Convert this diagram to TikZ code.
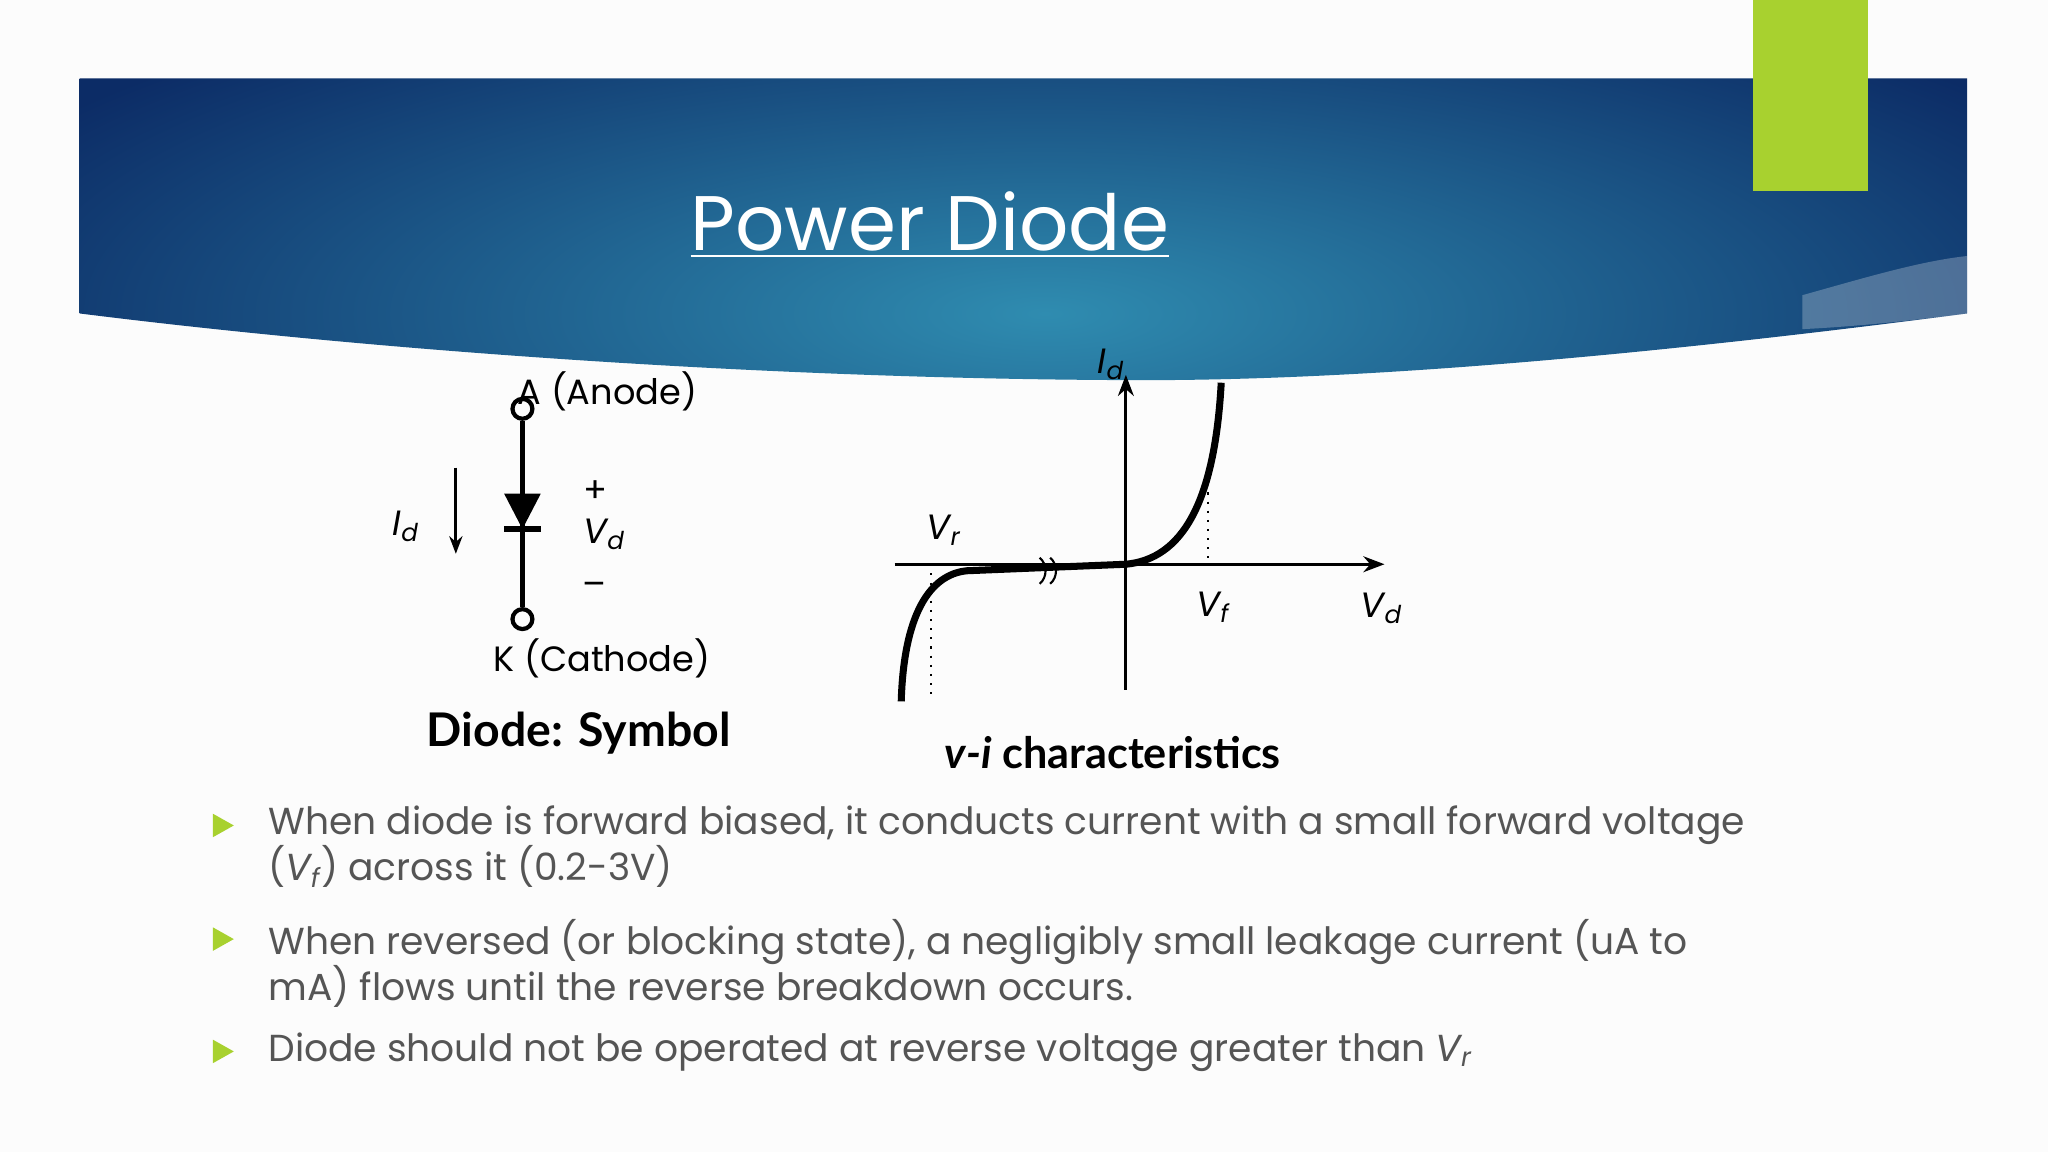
\documentclass[tikz,border=0pt]{standalone}
\usepackage{fontspec}
\setmainfont{Poppins}
\newfontfamily\boldf{Lato}
\usetikzlibrary{arrows.meta}
\definecolor{bgc}{HTML}{FCFCFC}
\definecolor{navy}{HTML}{123A72}
\definecolor{tealc}{HTML}{2F8CB0}
\definecolor{navyr}{HTML}{0C2C66}
\definecolor{greenc}{HTML}{A8D12F}
\definecolor{txt}{HTML}{555555}
\tikzset{
 wire/.style={line width=1.2pt,black},
 ax/.style={line width=0.9pt,-{Stealth[length=6pt]}},
 dot/.style={dotted,line width=0.6pt},
 lbl/.style={font=\fontsize{10}{12}\selectfont\itshape,inner sep=0pt},
 btxt/.style={font=\fontsize{10.7}{13.2}\selectfont,text=txt,anchor=north west,inner sep=0pt,align=left},
 bul/.style={fill=greenc,draw=none},
}
\begin{document}
\begin{tikzpicture}[x=0.01306cm,y=-0.01306cm]
\fill[bgc] (0,0) rectangle (1568,882);
\useasboundingbox (0,0) rectangle (1568,882);
% banner
\begin{scope}
\clip (61,60) -- (1506,60) -- (1506,240) .. controls (1200,280) and (1000,292) .. (860,291)
 .. controls (600,290) and (300,270) .. (61,240) -- cycle;
\shade[inner color=tealc,outer color=navyr] (-100,-40) rectangle (1700,520);
\fill[white,opacity=0.25] (1380,226) .. controls (1430,212) and (1470,200) .. (1506,196) -- (1506,240) .. controls (1460,246) and (1420,250) .. (1380,252) -- cycle;
\end{scope}
\fill[greenc] (1342,0) rectangle (1430,146);
\node[text=white,font=\fontsize{22}{26}\selectfont] (title) at (712,172) {\underline{Power Diode}};
% diode symbol
\node[circle,draw,line width=1.2pt,inner sep=2pt] (A) at (400,313) {};
\node[circle,draw,line width=1.2pt,inner sep=2pt] (K) at (400,474) {};
\draw[wire] (A) -- (K);
\fill (386,378) -- (414,378) -- (400,405) -- cycle;
\draw[line width=1.6pt] (386,405) -- (414,405);
\node[anchor=west,font=\fontsize{10}{12}\selectfont,inner sep=0pt] (an) at (396,300) {A (Anode)};
\node[font=\fontsize{10}{12}\selectfont,inner sep=0pt] (ca) at (461,504) {K (Cathode)};
\coordinate (i1) at (349,358); \coordinate (i2) at (349,424);
\draw[line width=0.9pt,-{Stealth[length=5pt]}] (i1) -- (i2);
\node[lbl] (id) at (311,403) {I\textsubscript{d}};
\node[font=\fontsize{10}{12}\selectfont] (pl) at (456,376) {+};
\node[lbl] (vd) at (463,409) {V\textsubscript{d}};
\node[font=\fontsize{10}{12}\selectfont] (mi) at (455,451) {–};
\node[font=\boldf\bfseries\fontsize{13.2}{16}\selectfont] (ds) at (443,561) {Diode: Symbol};
% vi characteristic
\coordinate (o) at (862,432);
\coordinate (xl) at (685,432); \coordinate (xr) at (1060,432);
\coordinate (yb) at (862,528); \coordinate (yt) at (862,287);
\draw[ax] (xl) -- (xr);
\draw[ax] (yb) -- (yt);
\draw[line width=2pt] (o) .. controls (905,428) and (930,385) .. (935,293);
\draw[line width=2pt] (o) -- (740,437) .. controls (712,440) and (692,470) .. (690,537);
\draw[line width=0.6pt] (796,427) .. controls (802,432) and (802,442) .. (796,447);
\draw[line width=0.6pt] (804,427) .. controls (810,432) and (810,442) .. (804,447);
\draw[dot] (925,370) -- (925,432);
\draw[dot] (713,432) -- (713,535);
\node[lbl] (lid) at (851,279) {I\textsubscript{d}};
\node[lbl] (lvr) at (723,406) {V\textsubscript{r}};
\node[lbl] (lvf) at (929,465) {V\textsubscript{f}};
\node[lbl] (lvd) at (1058,466) {V\textsubscript{d}};
\node[font=\boldf\bfseries\fontsize{12.3}{15}\selectfont] (vic) at (852,576) {\itshape v-i\upshape\ characteristics};
% bullets
\foreach \yy in {632,719,805}{\fill[bul] (163,\yy-9) -- (179,\yy) -- (163,\yy+9) -- cycle;}
\node[btxt] (b1) at (205,616) {When diode is forward biased, it conducts current with a small forward voltage\\(\textit{V\textsubscript{f}}) across it (0.2-3V)};
\node[btxt] (b2) at (205,703) {When reversed (or blocking state), a negligibly small leakage current (uA to\\mA) flows until the reverse breakdown occurs.};
\node[btxt] (b3) at (205,790) {Diode should not be operated at reverse voltage greater than \textit{V\textsubscript{r}}};
\end{tikzpicture}
\end{document}
